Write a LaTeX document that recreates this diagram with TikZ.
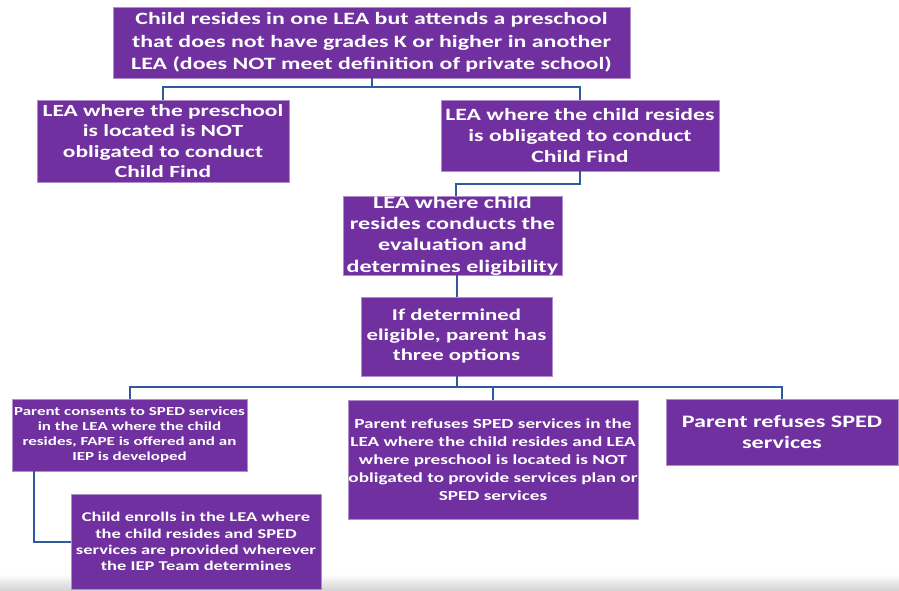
\documentclass[tikz,border=0pt]{standalone}
\usepackage{fontspec}
\newfontfamily\boxfont{Carlito}[FakeStretch=1.38]
\definecolor{boxpurple}{HTML}{7030A0}
\definecolor{linkblue}{HTML}{3059A0}
\begin{document}
\begin{tikzpicture}[x=1pt,y=-1pt,
  stepbox/.style={fill=boxpurple, draw=boxpurple!55!white, line width=0.5pt,
    text=white, align=center, inner sep=0pt},
  fsz/.style 2 args={font=\boxfont\bfseries\fontsize{#1}{#2}\selectfont},
  link/.style={draw=linkblue, line width=2pt}]
\useasboundingbox (0,0) rectangle (899,591);
% faint grey strip along the lower edge
\shade[top color=white, bottom color=black!18] (0,574) rectangle (899,591);

% boxes
\node[stepbox, fsz={17.3pt}{22.4pt}, minimum width=517pt, minimum height=71pt] (top) at (371.5,42.5)
  {Child resides in one LEA but attends a preschool\\that does not have grades K or higher in another\\LEA (does NOT meet definition of private school)};
\node[stepbox, fsz={17pt}{20.5pt}, minimum width=252pt, minimum height=82pt] (notob) at (163,141)
  {LEA where the preschool\\is located is NOT\\obligated to conduct\\Child Find};
\node[stepbox, fsz={17.2pt}{21pt}, minimum width=278pt, minimum height=71pt] (obl) at (580,135.5)
  {LEA where the child resides\\is obligated to conduct\\Child Find};
\node[stepbox, fsz={17.5pt}{21.3pt}, minimum width=219pt, minimum height=77pt] (eval) at (452.5,235.5)
  {LEA where child\\resides conducts the\\evaluation and\\determines eligibility};
\node[stepbox, fsz={16.5pt}{20pt}, minimum width=191pt, minimum height=79pt] (elig) at (456.5,336.5)
  {If determined\\eligible, parent has\\three options};
\node[stepbox, fsz={12.3pt}{15pt}, minimum width=235pt, minimum height=72pt] (consent) at (129.5,435)
  {Parent consents to SPED services\\in the LEA where the child\\resides, FAPE is offered and an\\IEP is developed};
\node[stepbox, fsz={13.9pt}{17.9pt}, minimum width=290pt, minimum height=119pt] (refuse) at (493,459.5)
  {Parent refuses SPED services in the\\LEA where the child resides and LEA\\where preschool is located is NOT\\obligated to provide services plan or\\SPED services};
\node[stepbox, fsz={17.5pt}{21pt}, minimum width=232pt, minimum height=66pt] (refall) at (782,432)
  {Parent refuses SPED\\services};
\node[stepbox, fsz={13.4pt}{16.3pt}, minimum width=250pt, minimum height=95pt] (enrol) at (196,541.5)
  {Child enrolls in the LEA where\\the child resides and SPED\\services are provided wherever\\the IEP Team determines};

% connectors
\coordinate (j1) at ([yshift=-9pt]top.south);
\draw[link] (top.south) -- (j1);
\draw[link] (notob.north) |- (j1) -| (obl.north);

\coordinate (j2) at (456,184);
\draw[link] (obl.south) |- (j2) -- (j2 |- eval.north);

\draw[link] (elig.north) -- (elig.north |- eval.south);

\coordinate (j3) at ([yshift=-11pt]elig.south);
\draw[link] (elig.south) -- (j3);
\draw[link] (consent.north) |- (j3) -| (refall.north);
\draw[link] (refuse.north) -- (refuse.north |- j3);

\draw[link] ([xshift=22pt]consent.south west) |- (enrol.west);
\end{tikzpicture}
\end{document}
